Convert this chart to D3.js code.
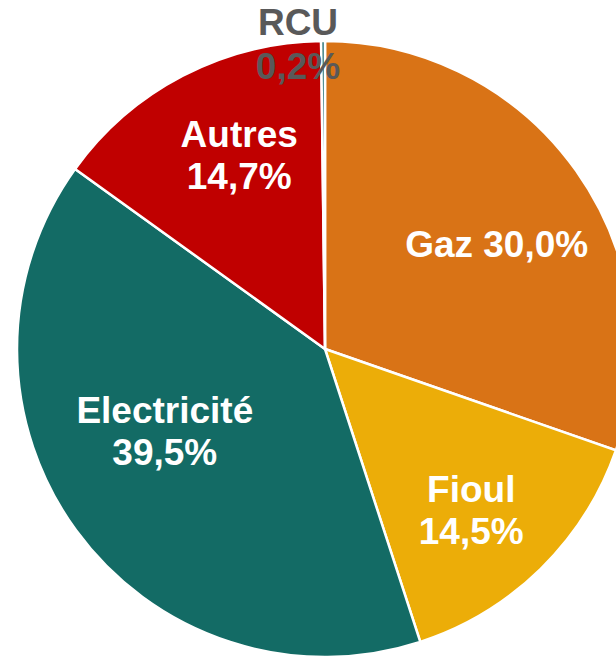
<!DOCTYPE html>
<html>
<head>
<meta charset="utf-8">
<script src="https://cdn.jsdelivr.net/npm/d3@7"></script>
<style>
  body { margin: 0; background: #fff; }
  svg { display: block; }
  text { font-family: "Liberation Sans", Arial, sans-serif; font-weight: bold; }
</style>
</head>
<body>
<svg id="chart"></svg>
<script>
// data
let categories = ['Gaz', 'Fioul', 'Electricité', 'Autres', 'RCU']
let values = [30.0, 14.5, 39.5, 14.7, 0.2]
let labels = ['30,0%', '14,5%', '39,5%', '14,7%', '0,2%']
let colors = ['#d97316', '#ecad08', '#136b65', '#c00000', '#1d6b70']

let width = 616
let height = 660
let cx = 325, cy = 349
let radius = 308

const svg = d3.select('#chart')
    .attr('width', width)
    .attr('height', height)

const g = svg.append('g')
    .attr('transform', `translate(${cx},${cy})`)

let pie = d3.pie().sort(null).value(d => d)
let arcs = pie(values)

let arc = d3.arc().innerRadius(0).outerRadius(radius)

g.selectAll('path.slice')
    .data(arcs)
    .enter()
    .append('path')
    .attr('class', 'slice')
    .attr('d', arc)
    .attr('fill', (d, i) => colors[i])
    .attr('stroke', '#fff')
    .attr('stroke-width', 2.5)
    .attr('stroke-linejoin', 'round')

// label placement: radius factor + small nudges, tuned by eye
let labelArc = d3.arc().innerRadius(radius * 0.66).outerRadius(radius * 0.66)
let lineGap = 42
let nudge = [
    { dx: 6, dy: 14, oneLine: true },
    { dx: 4, dy: 17 },
    { dx: 4, dy: -37 },
    { dx: 8, dy: -13 },
    { dx: 0, dy: 0, outside: true }
]

arcs.forEach((d, i) => {
    let [x, y] = labelArc.centroid(d)
    let n = nudge[i]
    let fill = '#fff'
    let gap = lineGap
    if (n.outside) {
        // small slice: label above the pie, in grey
        x = -27
        y = -cy + 44
        fill = '#595959'
        gap = 44
    }
    x += n.dx
    y += n.dy
    let t = g.append('text')
        .attr('text-anchor', 'middle')
        .attr('fill', fill)
        .style('font-size', '37px')
    if (n.oneLine) {
        t.append('tspan')
            .attr('x', x)
            .attr('y', y + 12)
            .text(`${categories[i]} ${labels[i]}`)
    } else {
        t.append('tspan')
            .attr('x', x)
            .attr('y', y - 9)
            .text(categories[i])
        t.append('tspan')
            .attr('x', x)
            .attr('y', y - 9 + gap)
            .text(labels[i])
    }
})
</script>
</body>
</html>
